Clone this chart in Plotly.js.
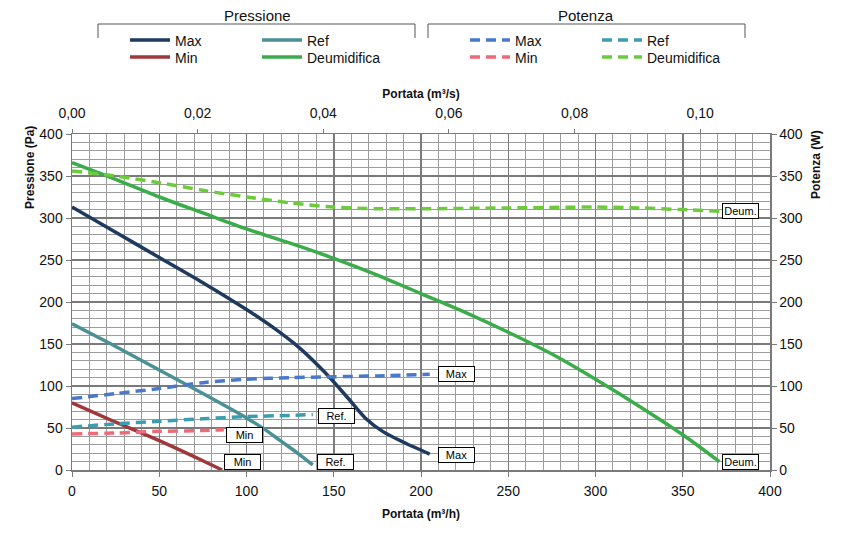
<!DOCTYPE html>
<html>
<head>
<meta charset="utf-8">
<script src="https://cdn.plot.ly/plotly-3.0.1.min.js"></script>
<style>html,body{margin:0;padding:0;background:#fff;}#chart{width:844px;height:536px;}</style>
</head>
<body>
<div id="chart"></div>
<script>
// ---- Data (portata in m3/h, pressione in Pa, potenza in W) ----
const portataMax = [0, 25, 50, 75, 100, 115, 130, 145, 158, 168, 178, 190, 205];
const pressioneMax = [313, 283, 253, 223, 191, 170, 146, 116, 86, 62, 46, 33, 19];

const portataMin = [0, 25, 50, 75, 86];
const pressioneMin = [80, 57, 35, 11, 0];

const portataRef = [0, 25, 50, 75, 100, 110, 120, 130, 138];
const pressioneRef = [174, 147, 119, 91, 62, 49, 34, 19, 6];

const portataDeum = [0, 25, 50, 75, 100, 125, 150, 175, 200, 225, 250, 275, 300, 325, 350, 371];
const pressioneDeum = [366, 346, 325, 306, 287, 270, 252, 232, 210, 188, 164, 138, 108, 76, 42, 10];

const portataPotMax = [0, 25, 50, 75, 100, 125, 150, 175, 205];
const potenzaMax = [85, 91, 97, 104, 108, 110, 111, 112, 114];

const portataPotMin = [0, 25, 50, 75, 87];
const potenzaMin = [43, 44, 46, 47, 48];

const portataPotRef = [0, 25, 50, 75, 100, 125, 138];
const potenzaRef = [51, 55, 58, 61, 63.5, 65, 66];

const portataPotDeum = [0, 25, 50, 75, 100, 125, 150, 175, 200, 250, 300, 325, 350, 372];
const potenzaDeum = [356, 350, 342, 333, 325, 318, 313, 311, 311, 312, 313, 312, 310, 308];

const legendNames = ["Max", "Min", "Ref", "Deumidifica"];
const groupTitles = ["Pressione", "Potenza"];
const endLabels = ["Max", "Ref.", "Min", "Deum."];

// ---- Styles ----
const FONT = "Liberation Sans, Arial, sans-serif";
const LW = 3.5;
const DASH = "10px,6px";
const C = {
  max: "#1f3a5f", min: "#a0373a", ref: "#4a9196", deum: "#3aad4a",
  pmax: "#4a79cc", pmin: "#ef6a78", pref: "#3c9db0", pdeum: "#6cca3c"
};

function tr(x, y, name, color, dash, axis, legend) {
  return {
    x: x, y: y, name: name, type: "scatter", mode: "lines",
    line: {color: color, width: LW, dash: dash, shape: "spline", smoothing: 0.8},
    yaxis: axis, legend: legend, hoverinfo: "skip"
  };
}

const data = [
  tr(portataMax, pressioneMax, legendNames[0], C.max, "solid", "y", "legend"),
  tr(portataRef, pressioneRef, legendNames[2], C.ref, "solid", "y", "legend"),
  tr(portataMin, pressioneMin, legendNames[1], C.min, "solid", "y", "legend2"),
  tr(portataDeum, pressioneDeum, legendNames[3], C.deum, "solid", "y", "legend2"),
  tr(portataPotMax, potenzaMax, legendNames[0], C.pmax, DASH, "y2", "legend3"),
  tr(portataPotRef, potenzaRef, legendNames[2], C.pref, DASH, "y2", "legend3"),
  tr(portataPotMin, potenzaMin, legendNames[1], C.pmin, DASH, "y2", "legend4"),
  tr(portataPotDeum, potenzaDeum, legendNames[3], C.pdeum, DASH, "y2", "legend4"),
  // empty trace so that the top m3/s axis is drawn
  {x: [], y: [], xaxis: "x2", yaxis: "y", type: "scatter", mode: "lines", showlegend: false, hoverinfo: "skip"}
];

// ---- Geometry helpers (pixel -> paper) ----
const L = 72, R = 770, T = 134, B = 470;
const px = v => (v - L) / (R - L);
const py = v => (B - v) / (B - T);

function legendCfg(xpx, ypx) {
  return {
    x: px(xpx), y: py(ypx), xanchor: "left", yanchor: "top", orientation: "h",
    entrywidth: 77, entrywidthmode: "pixels",
    bgcolor: "rgba(0,0,0,0)", borderwidth: 0, itemwidth: 40,
    font: {family: FONT, size: 14, color: "#111"}, tracegroupgap: 0
  };
}

const gridMinor = {dtick: 10, showgrid: true, gridcolor: "#9c9c9c", gridwidth: 1, ticks: ""};

const boxAnn = (txt, x, y) => ({
  text: txt, x: x, y: y, xref: "x", yref: "y", xanchor: "left", yanchor: "middle",
  showarrow: false, bgcolor: "#fff", bordercolor: "#000", borderwidth: 1, borderpad: 1,
  width: 33, height: 12, font: {family: FONT, size: 11, color: "#000"}
});

const shapes = [];
function bracket(x0, x1) {
  shapes.push({type: "path", xref: "paper", yref: "paper", line: {color: "#555", width: 1},
    path: `M${px(x0)},${py(38)} L${px(x0)},${py(24)} L${px(x1)},${py(24)} L${px(x1)},${py(38)}`});
}
bracket(98, 415);
bracket(428, 745);

const AXC = "#7a7a7a";
const layout = {
  width: 844, height: 536,
  margin: {l: L, r: 844 - R, t: T, b: 536 - B, pad: 0, autoexpand: false},
  paper_bgcolor: "#fff", plot_bgcolor: "#fff",
  separators: ",.",
  font: {family: FONT, size: 14, color: "#111"},
  showlegend: true,
  legend: legendCfg(125, 24.5),
  legend2: legendCfg(125, 41.5),
  legend3: legendCfg(465, 24.5),
  legend4: legendCfg(465, 41.5),
  xaxis: {
    range: [0, 400], dtick: 50, tick0: 0, showgrid: true, gridcolor: AXC, gridwidth: 1.5,
    minor: gridMinor, zeroline: false, showline: true, linecolor: AXC, linewidth: 1.5,
    ticks: "outside", ticklen: 5, tickcolor: AXC, automargin: false, ticklabelstandoff: 3,
    tickfont: {family: FONT, size: 14, color: "#111"},
    title: {text: "<b>Portata (m³/h)</b>", font: {family: FONT, size: 12, color: "#111"}, standoff: 11}
  },
  xaxis2: {
    overlaying: "x", side: "top", anchor: "y", range: [0, 400 / 3600], dtick: 0.02, tick0: 0,
    tickformat: ".2f", showgrid: false, zeroline: false, showline: true, linecolor: AXC, linewidth: 1.5,
    ticks: "outside", ticklen: 4, tickcolor: AXC, automargin: false, ticklabelstandoff: 5,
    tickfont: {family: FONT, size: 14, color: "#111"},
    title: {text: "<b>Portata (m³/s)</b>", font: {family: FONT, size: 12, color: "#111"}, standoff: 3}
  },
  yaxis: {
    range: [0, 400], dtick: 50, tick0: 0, showgrid: true, gridcolor: AXC, gridwidth: 1.5,
    minor: gridMinor, zeroline: false, showline: true, linecolor: AXC, linewidth: 1.5,
    ticks: "outside", ticklen: 5, tickcolor: AXC, automargin: false,
    tickfont: {family: FONT, size: 14, color: "#111"}
  },
  yaxis2: {
    overlaying: "y", side: "right", range: [0, 400], dtick: 50, tick0: 0, showgrid: false,
    zeroline: false, showline: true, linecolor: AXC, linewidth: 1.5,
    ticks: "outside", ticklen: 5, tickcolor: AXC, automargin: false,
    tickfont: {family: FONT, size: 14, color: "#111"}
  },
  shapes: shapes,
  annotations: [
    {text: groupTitles[0], xref: "paper", yref: "paper", x: px(257), y: py(16), xanchor: "center", yanchor: "middle",
     showarrow: false, font: {family: FONT, size: 15, color: "#111"}},
    {text: groupTitles[1], xref: "paper", yref: "paper", x: px(586), y: py(16), xanchor: "center", yanchor: "middle",
     showarrow: false, font: {family: FONT, size: 15, color: "#111"}},
    {text: "<b>Pressione (Pa)</b>", xref: "paper", yref: "paper", x: px(30), y: py(168), textangle: -90,
     xanchor: "center", yanchor: "middle", showarrow: false, font: {family: FONT, size: 12, color: "#111"}},
    {text: "<b>Potenza (W)</b>", xref: "paper", yref: "paper", x: px(816), y: py(165), textangle: -90,
     xanchor: "center", yanchor: "middle", showarrow: false, font: {family: FONT, size: 12, color: "#111"}},
    boxAnn(endLabels[0], 210, 114),
    boxAnn(endLabels[0], 210, 18),
    boxAnn(endLabels[1], 141, 64),
    boxAnn(endLabels[1], 140.5, 9.5),
    boxAnn(endLabels[2], 88.3, 42),
    boxAnn(endLabels[2], 87.2, 9.5),
    boxAnn(endLabels[3], 372.5, 308),
    boxAnn(endLabels[3], 372.5, 9.5)
  ]
};

Plotly.newPlot("chart", data, layout, {staticPlot: true, displayModeBar: false});
</script>
</body>
</html>
